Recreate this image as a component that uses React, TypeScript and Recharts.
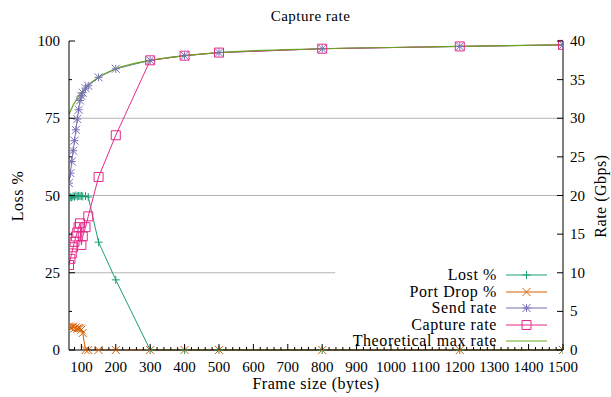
import React from 'react';
import { LineChart, Line, XAxis, YAxis, ReferenceLine } from 'recharts';

// frame sizes (bytes) and the values
const frameSizes = [64, 68, 72, 76, 80, 84, 88, 92, 96, 100, 104, 112, 120, 150, 200, 300, 400, 500, 800, 1200, 1500];
const lostPct = [49.0, 49.5, 49.3, 49.8, 49.6, 50.0, 49.7, 49.9, 49.8, 49.9, 49.7, 49.8, 49.5, 34.9, 22.7, 0, 0, 0, 0, 0, 0];
const portDropPct = [7.6, 7.4, 7.2, 7.6, 7.0, 7.3, 6.9, 7.1, 7.0, 6.6, 5.5, 0, 0, 0, 0, 0, 0, 0, 0, 0, 0];
const sendRate = [21.6, 22.9, 24.4, 25.8, 27.1, 28.5, 29.9, 31.1, 32.3, 32.9, 33.3, 33.9, 34.2, 35.3, 36.4, 37.5, 38.1, 38.5, 39.0, 39.3, 39.5];
const captureRate = [11.0, 11.8, 12.5, 13.3, 14.0, 14.7, 15.2, 15.9, 16.4, 13.6, 14.7, 15.9, 17.3, 22.4, 27.8, 37.5, 38.1, 38.5, 39.0, 39.3, 39.5];
const theoreticalRate = [30.5, 30.9, 31.3, 31.7, 32.0, 32.3, 32.6, 32.9, 33.1, 33.3, 33.5, 33.9, 34.3, 35.3, 36.4, 37.5, 38.1, 38.5, 39.0, 39.3, 39.5];

const xTicks = [100, 200, 300, 400, 500, 600, 700, 800, 900, 1000, 1100, 1200, 1300, 1400, 1500];
const lossTicks = [0, 12.5, 25, 37.5, 50, 62.5, 75, 87.5, 100];
const lossLabels = [0, 25, 50, 75, 100];
const rateTicks = [0, 5, 10, 15, 20, 25, 30, 35, 40];

// minor ticks every 20 bytes between the labelled ones
const xAllTicks: number[] = [];
for (let v = 80; v <= 1500; v += 20) xAllTicks.push(v);

const data = frameSizes.map((size, i) => ({
  size,
  lost: lostPct[i],
  drop: portDropPct[i],
  send: sendRate[i],
  capture: captureRate[i],
  theory: theoreticalRate[i],
}));

const C = {
  lost: '#1b9e77',
  drop: '#d95f02',
  send: '#7570b3',
  capture: '#e7298a',
  theory: '#66a61e',
  grid: '#b4b4b4',
};

const FONT = "'Times New Roman', 'Liberation Serif', Times, serif";

type Mk = 'plus' | 'cross' | 'star' | 'square' | 'none';

function markPath(kind: Mk, x: number, y: number) {
  const s = 4;
  if (kind === 'plus') return `M${x - s},${y}h${2 * s}M${x},${y - s}v${2 * s}`;
  if (kind === 'cross') return `M${x - s},${y - s}l${2 * s},${2 * s}M${x - s},${y + s}l${2 * s},${-2 * s}`;
  if (kind === 'star')
    return `M${x - s},${y}h${2 * s}M${x},${y - s}v${2 * s}M${x - s},${y - s}l${2 * s},${2 * s}M${x - s},${y + s}l${2 * s},${-2 * s}`;
  if (kind === 'square') return `M${x - 4.5},${y - 4.5}h9v9h-9z`;
  return '';
}

const dotOf = (kind: Mk, color: string) => (p: any) => {
  if (p.cx == null || p.cy == null) return <g key={`d${p.index}`} />;
  return <path key={`d${p.index}`} d={markPath(kind, p.cx, p.cy)} stroke={color} strokeWidth={1} fill="none" />;
};

const BottomTick = (p: any) => {
  const v = p.payload.value;
  const major = xTicks.includes(v);
  return (
    <g>
      <line x1={p.x} x2={p.x} y1={p.y} y2={p.y - (major ? 6 : 3)} stroke="#000" />
      {major && (
        <text x={p.x} y={p.y + 22} textAnchor="middle" style={{ fontSize: 15, fontFamily: FONT }} fill="#000">
          {v}
        </text>
      )}
    </g>
  );
};

const TopTick = (p: any) => {
  const major = xTicks.includes(p.payload.value);
  return <line x1={p.x} x2={p.x} y1={p.y} y2={p.y + (major ? 6 : 3)} stroke="#000" />;
};

const LeftTick = (p: any) => {
  const v = p.payload.value;
  const major = lossLabels.includes(v);
  return (
    <g>
      <line x1={p.x} x2={p.x + (major ? 6 : 3)} y1={p.y} y2={p.y} stroke="#000" />
      {major && (
        <text x={p.x - 9} y={p.y + 5} textAnchor="end" style={{ fontSize: 15, fontFamily: FONT }} fill="#000">
          {v}
        </text>
      )}
    </g>
  );
};

const RightTick = (p: any) => (
  <g>
    <line x1={p.x} x2={p.x - 6} y1={p.y} y2={p.y} stroke="#000" />
    <text x={p.x + 7} y={p.y + 5} textAnchor="start" style={{ fontSize: 15, fontFamily: FONT }} fill="#000">
      {p.payload.value}
    </text>
  </g>
);

const legendItems: { name: string; color: string; kind: Mk }[] = [
  { name: 'Lost %', color: C.lost, kind: 'plus' },
  { name: 'Port Drop %', color: C.drop, kind: 'cross' },
  { name: 'Send rate', color: C.send, kind: 'star' },
  { name: 'Capture rate', color: C.capture, kind: 'square' },
  { name: 'Theoretical max rate', color: C.theory, kind: 'none' },
];

export default function App() {
  return (
    <div style={{ position: 'absolute', left: 0, top: 0, width: 611, height: 397, background: '#fff', fontFamily: FONT }}>
      <div style={{ position: 'absolute', left: 0, width: 611, top: 8, textAlign: 'center', fontSize: 15, letterSpacing: 0.5, paddingLeft: 5 }}>
        Capture rate
      </div>
      <LineChart width={611} height={397} data={data} margin={{ top: 41, right: 8, bottom: 17, left: 29 }}>
        <XAxis
          xAxisId="x"
          dataKey="size"
          type="number"
          domain={[64, 1500]}
          allowDataOverflow
          ticks={xAllTicks}
          interval={0}
          height={30}
          tickSize={0}
          tickMargin={0}
          tickLine={false}
          tick={BottomTick}
          axisLine={{ stroke: '#000' }}
        />
        <XAxis
          xAxisId="top"
          orientation="top"
          dataKey="size"
          type="number"
          domain={[64, 1500]}
          allowDataOverflow
          ticks={xAllTicks}
          interval={0}
          height={0}
          tickSize={0}
          tickMargin={0}
          tickLine={false}
          tick={TopTick}
          axisLine={{ stroke: '#000' }}
        />
        <YAxis
          yAxisId="loss"
          type="number"
          domain={[0, 100]}
          ticks={lossTicks}
          interval={0}
          width={40}
          tickSize={0}
          tickMargin={0}
          tickLine={false}
          tick={LeftTick}
          axisLine={{ stroke: '#000' }}
        />
        <YAxis
          yAxisId="rate"
          orientation="right"
          type="number"
          domain={[0, 40]}
          ticks={rateTicks}
          interval={0}
          width={40}
          tickSize={0}
          tickMargin={0}
          tickLine={false}
          tick={RightTick}
          axisLine={{ stroke: '#000' }}
        />
        <ReferenceLine xAxisId="x" yAxisId="loss" y={75} stroke={C.grid} strokeWidth={1} />
        <ReferenceLine xAxisId="x" yAxisId="loss" y={50} stroke={C.grid} strokeWidth={1} />
        <ReferenceLine
          xAxisId="x"
          yAxisId="loss"
          segment={[{ x: 64, y: 25 }, { x: 838, y: 25 }]}
          stroke={C.grid}
          strokeWidth={1}
        />
        <Line xAxisId="x" yAxisId="loss" type="linear" dataKey="lost" stroke={C.lost} strokeWidth={1} dot={dotOf('plus', C.lost)} activeDot={false} isAnimationActive={false} />
        <Line xAxisId="x" yAxisId="loss" type="linear" dataKey="drop" stroke={C.drop} strokeWidth={1} dot={dotOf('cross', C.drop)} activeDot={false} isAnimationActive={false} />
        <Line xAxisId="x" yAxisId="rate" type="linear" dataKey="send" stroke={C.send} strokeWidth={1} dot={dotOf('star', C.send)} activeDot={false} isAnimationActive={false} />
        <Line xAxisId="x" yAxisId="rate" type="linear" dataKey="capture" stroke={C.capture} strokeWidth={1} dot={dotOf('square', C.capture)} activeDot={false} isAnimationActive={false} />
        <Line xAxisId="x" yAxisId="rate" type="monotone" dataKey="theory" stroke={C.theory} strokeWidth={1.2} dot={false} activeDot={false} isAnimationActive={false} />
      </LineChart>
      <div
        style={{
          position: 'absolute',
          left: 18,
          top: 196,
          transform: 'translate(-50%, -50%) rotate(-90deg)',
          fontSize: 16,
          whiteSpace: 'nowrap',
          letterSpacing: 0.5,
        }}
      >
        Loss %
      </div>
      <div
        style={{
          position: 'absolute',
          left: 601,
          top: 196,
          transform: 'translate(-50%, -50%) rotate(-90deg)',
          fontSize: 16,
          whiteSpace: 'nowrap',
          letterSpacing: 0.5,
        }}
      >
        Rate (Gbps)
      </div>
      <div style={{ position: 'absolute', left: 0, width: 632, top: 375, textAlign: 'center', fontSize: 16, letterSpacing: 0.5 }}>
        Frame size (bytes)
      </div>
      <div style={{ position: 'absolute', left: 300, top: 267 }}>
        {legendItems.map((it) => (
          <div key={it.name} style={{ display: 'flex', alignItems: 'center', height: 16.5 }}>
            <div style={{ width: 197, textAlign: 'right', fontSize: 16, letterSpacing: 0.6, lineHeight: '16px', whiteSpace: 'nowrap' }}>
              {it.name}
            </div>
            <svg width={50} height={12} style={{ marginLeft: 9 }}>
              <line x1={0} x2={41} y1={6} y2={6} stroke={it.color} strokeWidth={1} />
              <path d={markPath(it.kind, 20.5, 6)} stroke={it.color} strokeWidth={1} fill="none" />
            </svg>
          </div>
        ))}
      </div>
    </div>
  );
}
